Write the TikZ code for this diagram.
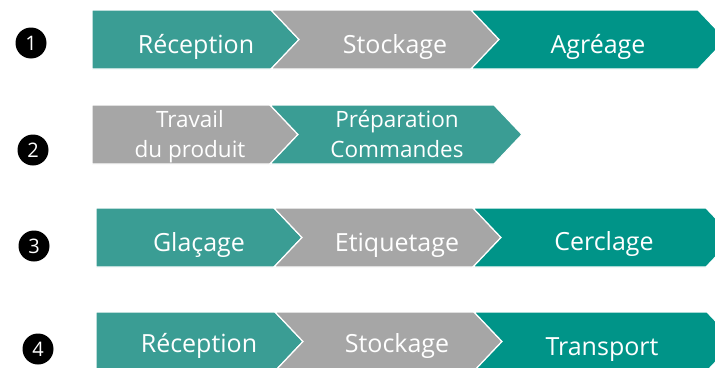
\documentclass[tikz,border=0pt]{standalone}
\usepackage{fontspec}
\setmainfont{Open Sans}
\definecolor{tealL}{HTML}{3A9D94}
\definecolor{tealD}{HTML}{009488}
\definecolor{grayC}{HTML}{A6A6A6}
\tikzset{
  chevbox/.style={draw=white, line width=1.2pt, line join=miter},
  lbl/.style={text=white, anchor=base, inner sep=0pt, font=\fontsize{25}{29}\selectfont},
  lblsmall/.style={text=white, anchor=base, inner sep=0pt, font=\fontsize{22.5}{26}\selectfont},
  numdot/.style={circle, fill=black, text=white, minimum size=31pt, inner sep=0pt, font=\fontsize{20}{21}\selectfont},
}
% first shape: flat left edge
\newcommand\homeplate[5]{\path[chevbox, fill=#1] (#2,#4) -- (#3,#4) -- ({#3+28},{(#4+#5)/2}) -- (#3,#5) -- (#2,#5) -- cycle;}
% following shapes: notched left edge
\newcommand\chevshape[5]{\path[chevbox, fill=#1] (#2,#4) -- (#3,#4) -- ({#3+28},{(#4+#5)/2}) -- (#3,#5) -- (#2,#5) -- ({#2+28},{(#4+#5)/2}) -- cycle;}
\begin{document}
\begin{tikzpicture}[x=1pt, y=-1pt]
\clip (0,0) rectangle (715,367);
\fill[white] (0,0) rectangle (715,367);

% Row 1
\homeplate{tealL}{92}{271}{10}{69}
\chevshape{grayC}{271}{471}{10}{69}
\chevshape{tealD}{471}{698}{10}{69}
\node[numdot] (n1) at (31,43) {1};
\node[lbl] (r1a) at (196,53) {Réception};
\node[lbl] (r1b) at (395,53) {Stockage};
\node[lbl] (r1c) at (598,53) {Agréage};

% Row 2
\homeplate{grayC}{92}{270}{105}{164}
\chevshape{tealL}{270}{494}{105}{164}
\node[numdot] (n2) at (33,150) {2};
\node[lblsmall] (r2a1) at (190,127) {Travail};
\node[lblsmall] (r2a2) at (190,157) {du produit};
\node[lblsmall] (r2b1) at (397,127) {Préparation};
\node[lblsmall] (r2b2) at (397,157) {Commandes};

% Row 3
\homeplate{tealL}{96}{274}{208}{267}
\chevshape{grayC}{274}{473}{208}{267}
\chevshape{tealD}{473}{706}{208}{267}
\node[numdot] (n3) at (34,246) {3};
\node[lbl] (r3a) at (199,251) {Glaçage};
\node[lbl] (r3b) at (397,251) {Etiquetage};
\node[lbl] (r3c) at (604,250) {Cerclage};

% Row 4
\homeplate{tealL}{96}{275}{312}{371}
\chevshape{grayC}{275}{474}{312}{371}
\chevshape{tealD}{474}{707}{312}{371}
\node[numdot] (n4) at (38,349) {4};
\node[lbl] (r4a) at (199,352) {Réception};
\node[lbl] (r4b) at (397,352) {Stockage};
\node[lbl] (r4c) at (602,355) {Transport};
\end{tikzpicture}
\end{document}
